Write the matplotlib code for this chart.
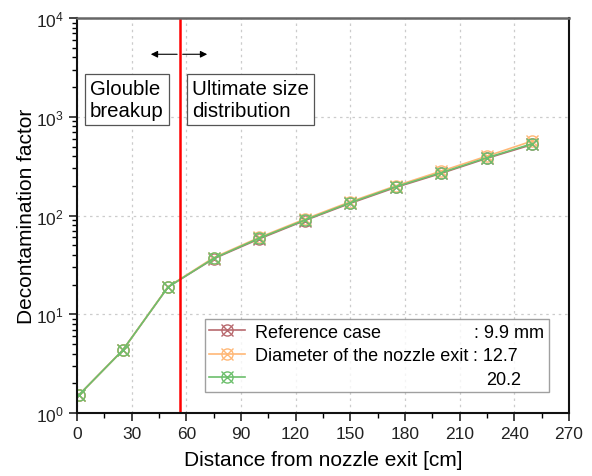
import matplotlib.pyplot as plt
from matplotlib.ticker import MultipleLocator, LogLocator, NullFormatter

plt.rcParams['font.family'] = ['Liberation Sans', 'DejaVu Sans']

# distance from nozzle exit [cm]
distance = [1, 25, 50, 75, 100, 125, 150, 175, 200, 225, 250]
# decontamination factor for each nozzle diameter
df_ref = [1.52, 4.3, 18.9, 36.5, 58, 89, 133, 193, 268, 380, 525]
df_127 = [1.52, 4.3, 19.0, 37.5, 60, 92, 138, 200, 282, 400, 570]
df_202 = [1.52, 4.3, 18.9, 36.8, 59, 90, 135, 196, 272, 385, 535]

labels = ['Reference case', 'Diameter of the nozzle exit', ' ']
values = [': 9.9 mm', ': 12.7', '20.2']
colors = ['#b8696e', '#ffb877', '#6cbf6c']

breakup_x = 56.5

fig = plt.figure(figsize=(5.92, 4.77), dpi=100)
ax = fig.add_axes([0.130, 0.132, 0.831, 0.828])

handles = []
for ys, c in zip([df_ref, df_127, df_202], colors):
    ln, = ax.plot(distance, ys, color=c, lw=1.2, marker='o', ms=8, mfc='none',
                  mec=c, mew=1.0)
    mk, = ax.plot(distance, ys, color=c, lw=0, marker='x', ms=8, mew=1.0)
    handles.append((ln, mk))

ax.axvline(breakup_x, color='red', lw=1.8)
ax.annotate('', xy=(39, 4300), xytext=(breakup_x, 4300),
            arrowprops=dict(arrowstyle='-|>', color='black', lw=0.8))
ax.annotate('', xy=(73, 4300), xytext=(breakup_x, 4300),
            arrowprops=dict(arrowstyle='-|>', color='black', lw=0.8))

box = dict(boxstyle='square,pad=0.25', fc='white', ec='#555555', lw=0.9)
ax.text(7, 1500, 'Glouble\nbreakup', fontsize=14.7, va='center', ha='left',
        bbox=box, linespacing=1.15)
ax.text(63, 1500, 'Ultimate size\ndistribution', fontsize=14.7, va='center',
        ha='left', bbox=box, linespacing=1.15)

ax.set_yscale('log')
ax.set_xlim(0, 270)
ax.set_ylim(1, 1e4)
ax.xaxis.set_major_locator(MultipleLocator(30))
ax.xaxis.set_minor_locator(MultipleLocator(15))
ax.yaxis.set_major_locator(LogLocator(base=10, numticks=10))
ax.yaxis.set_minor_locator(LogLocator(base=10, subs=range(2, 10), numticks=10))
ax.yaxis.set_minor_formatter(NullFormatter())
ax.tick_params(axis='both', which='major', direction='out', length=6,
               width=1.2, labelsize=12.5, colors='#222222')
ax.tick_params(axis='both', which='minor', direction='out', length=3.5,
               width=1.0)
ax.grid(True, which='major', ls=(0, (2, 3)), color='#cccccc', lw=0.9)
for s in ['left', 'bottom', 'right']:
    ax.spines[s].set_linewidth(1.5)
    ax.spines[s].set_color('#111111')
ax.spines['top'].set_color('#666666')
ax.spines['top'].set_linewidth(1.8)

ax.set_xlabel('Distance from nozzle exit [cm]', fontsize=15, labelpad=6)
ax.set_ylabel('Decontamination factor', fontsize=15, labelpad=0)

leg = ax.legend(handles=handles, labels=labels, loc='lower left',
                bbox_to_anchor=(0.26, 0.053, 0.699, 0.18), mode='expand',
                fontsize=13, frameon=True, fancybox=False, edgecolor='#888888',
                handlelength=2.0, borderpad=0.25, labelspacing=0.36,
                handletextpad=0.5, borderaxespad=0)
leg.get_frame().set_linewidth(1.0)

# value column of the legend, aligned with the legend rows
fig.canvas.draw()
inv = ax.transAxes.inverted()
starts = [0.808, 0.806, 0.831]
for v, t, x0 in zip(values, leg.get_texts(), starts):
    bb = t.get_window_extent()
    yc = inv.transform((0, (bb.y0 + bb.y1) / 2))[1]
    if not t.get_text().strip():
        prev = leg.get_texts()[1].get_window_extent()
        first = leg.get_texts()[0].get_window_extent()
        step = (first.y0 + first.y1) / 2 - (prev.y0 + prev.y1) / 2
        yc = inv.transform((0, (prev.y0 + prev.y1) / 2 - step))[1]
    ax.text(x0, yc, v, transform=ax.transAxes, fontsize=13, va='center',
            ha='left', zorder=10)

fig.savefig('out.png', dpi=100)
